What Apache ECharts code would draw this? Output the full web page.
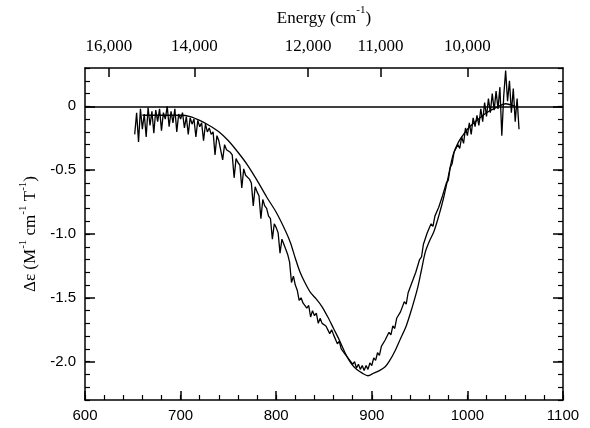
<!DOCTYPE html>
<html><head><meta charset="utf-8">
<script src="https://cdn.jsdelivr.net/npm/echarts@6/dist/echarts.min.js"></script>
<style>html,body{margin:0;padding:0;background:#fff}#c{width:590px;height:428px}</style>
</head><body><div id="c"></div>
<script>
// ---- data ----
const noisyStart = 652;      // nm
const noisyStep = 2;         // nm
const noisyValues = [
 -0.22,-0.05,-0.28,-0.02,-0.18,-0.06,-0.24,-0.01,-0.15,-0.04,
 -0.21,-0.03,-0.12,-0.02,-0.19,-0.05,-0.10,0.00,-0.16,-0.04,
 -0.13,-0.02,-0.20,-0.06,-0.10,-0.05,-0.17,-0.08,-0.22,-0.09,
 -0.14,-0.10,-0.24,-0.11,-0.16,-0.13,-0.27,-0.14,-0.20,-0.17,
 -0.22,-0.20,-0.38,-0.23,-0.27,-0.26,-0.42,-0.30,-0.34,-0.35,
 -0.36,-0.38,-0.56,-0.41,-0.44,-0.46,-0.64,-0.49,-0.54,-0.55,
 -0.57,-0.60,-0.78,-0.63,-0.67,-0.70,-0.88,-0.73,-0.78,-0.80,
 -0.86,-0.88,-1.04,-0.92,-0.95,-0.99,-1.15,-1.04,-1.08,-1.12,
 -1.16,-1.22,-1.38,-1.33,-1.40,-1.44,-1.52,-1.50,-1.54,-1.55,
 -1.58,-1.56,-1.65,-1.60,-1.64,-1.62,-1.70,-1.66,-1.70,-1.69,
 -1.72,-1.72,-1.78,-1.75,-1.79,-1.80,-1.86,-1.84,-1.90,-1.90,
 -1.94,-1.93,-1.98,-1.97,-2.02,-2.00,-2.05,-2.02,-2.06,-2.03,
 -2.07,-2.03,-2.06,-2.01,-2.03,-1.97,-1.99,-1.93,-1.95,-1.88,
 -1.89,-1.83,-1.84,-1.77,-1.79,-1.72,-1.74,-1.66,-1.67,-1.61,
 -1.60,-1.53,-1.55,-1.46,-1.47,-1.38,-1.39,-1.30,-1.30,-1.20,
 -1.18,-1.08,-1.07,-0.99,-1.00,-0.92,-0.94,-0.86,-0.87,-0.79,
 -0.79,-0.70,-0.70,-0.60,-0.58,-0.48,-0.45,-0.36,-0.37,-0.30,
 -0.33,-0.24,-0.29,-0.17,-0.23,-0.13,-0.22,-0.09,-0.16,-0.07,
 -0.15,-0.02,-0.12,0.03,-0.08,0.06,-0.05,0.10,-0.03,0.12,
 -0.02,0.15,-0.23,0.08,0.28,0.04,0.20,-0.05,0.14,-0.12,
 0.06,-0.18
];
const smoothWl = [660,680,700,710,720,730,740,750,760,770,780,790,800,810,815,820,825,830,836,842,848,854,860,866,872,878,884,890,896,902,908,914,918,924,930,936,942,948,952,956,960,965,970,975,980,985,990,995,1000,1010,1020,1030,1040,1050];
const smoothValues = [-0.07,-0.07,-0.07,-0.08,-0.11,-0.15,-0.20,-0.27,-0.36,-0.46,-0.58,-0.71,-0.83,-0.98,-1.07,-1.19,-1.30,-1.38,-1.46,-1.51,-1.57,-1.65,-1.74,-1.83,-1.93,-2.01,-2.06,-2.09,-2.11,-2.09,-2.07,-2.04,-2.00,-1.92,-1.82,-1.72,-1.58,-1.42,-1.28,-1.14,-1.06,-0.98,-0.86,-0.72,-0.55,-0.38,-0.29,-0.23,-0.18,-0.11,-0.05,-0.01,0.02,0.00];
const xTicks = [600,700,800,900,1000,1100];
const xTickLabels = ['600','700','800','900','1000','1100'];
const energyTicks = [16000,14000,12000,11000,10000];          // cm^-1
const energyLabels = ['16,000','14,000','12,000','11,000','10,000'];
const yMajorTicks = [0,-0.5,-1.0,-1.5,-2.0];
const yTickLabels = ['0','-0.5','-1.0','-1.5','-2.0'];

// ---- build ----
const noisyData = noisyValues.map((v,i)=>[noisyStart+i*noisyStep, v]);
const smoothData = smoothWl.map((w,i)=>[w, smoothValues[i]]);
const energyPos = energyTicks.map(e=>1e7/e);
const yMinor = []; for (let k=-23;k<=3;k++) yMinor.push(k/10);
const xMinor = []; for (let w=600; w<=1100; w+=20) xMinor.push(w);
const ySTR = v => { const i = yMajorTicks.findIndex(t=>Math.abs(t-v)<1e-6); return i>=0 ? yTickLabels[i] : ''; };
const xSTR = v => { const i = xTicks.findIndex(t=>Math.abs(t-v)<1e-6); return i>=0 ? xTickLabels[i] : ''; };
const eSTR = v => { let b=0; energyPos.forEach((p,i)=>{ if (Math.abs(p-v)<Math.abs(energyPos[b]-v)) b=i; }); return energyLabels[b]; };

const black = '#000';
const axLine = {show:true, onZero:false, lineStyle:{color:black, width:1.5}};
const noLine = {show:false, onZero:false};
const serif = 'Liberation Serif';
const sans = 'Liberation Sans';
const supRich = {
  n:{fontFamily:serif, fontSize:17, color:black, lineHeight:22, verticalAlign:'bottom'},
  s:{fontFamily:serif, fontSize:11, color:black, lineHeight:12, verticalAlign:'top'}
};
const tick = (vals, len, w) => ({show:true, inside:true, length:len, customValues:vals, lineStyle:{color:black, width:w}});
const xBase = {type:'value', min:600, max:1100, splitLine:{show:false}};
const yBase = {type:'value', min:-2.3, max:0.3, splitLine:{show:false}};

const chart = echarts.init(document.getElementById('c'), null, {renderer:'canvas'});
chart.setOption({
  animation:false,
  backgroundColor:'#fff',
  grid:{left:85, right:27, top:68, bottom:28, containLabel:false},
  xAxis:[
    Object.assign({}, xBase, {position:'bottom', axisLine:axLine,
     axisTick:tick(xTicks, 9, 1.5),
     axisLabel:{show:true, customValues:xTicks, formatter:xSTR, color:black, fontFamily:sans, fontSize:15, margin:8}}),
    Object.assign({}, xBase, {position:'bottom', axisLine:noLine,
     axisTick:tick(xMinor, 5, 1.2), axisLabel:{show:false}}),
    Object.assign({}, xBase, {position:'top', axisLine:axLine,
     axisTick:tick(energyPos, 9, 1.5),
     axisLabel:{show:true, customValues:energyPos, formatter:eSTR, color:black, fontFamily:serif, fontSize:17, margin:13},
     name:'{n|Energy (cm}{s|-1}{n|)}', nameLocation:'middle', nameGap:41,
     nameTextStyle:{rich:supRich}})
  ],
  yAxis:[
    Object.assign({}, yBase, {position:'left', axisLine:axLine,
     axisTick:tick(yMajorTicks, 10, 1.5),
     axisLabel:{show:true, customValues:yMajorTicks, formatter:ySTR, color:black, fontFamily:sans, fontSize:15, margin:9},
     name:'{n|Δε (M}{s|-1}{n| cm}{s|-1}{n| T}{s|-1}{n|)}', nameLocation:'middle', nameGap:44,
     nameTextStyle:{rich:supRich}}),
    Object.assign({}, yBase, {position:'left', axisLine:noLine,
     axisTick:tick(yMinor, 5, 1.2), axisLabel:{show:false}}),
    Object.assign({}, yBase, {position:'right', axisLine:axLine,
     axisTick:tick(yMajorTicks, 10, 1.5), axisLabel:{show:false}}),
    Object.assign({}, yBase, {position:'right', axisLine:noLine,
     axisTick:tick(yMinor, 5, 1.2), axisLabel:{show:false}})
  ],
  series:[
    {type:'line', name:'smooth', data:smoothData, xAxisIndex:0, yAxisIndex:0,
     showSymbol:false, symbol:'none', smooth:0.3,
     lineStyle:{color:black, width:1.3},
     markLine:{silent:true, symbol:['none','none'], label:{show:false},
       lineStyle:{color:black, width:1.6, type:'solid'}, data:[{yAxis:0}]}},
    {type:'line', name:'noisy', data:noisyData, xAxisIndex:0, yAxisIndex:0,
     showSymbol:false, symbol:'none',
     lineStyle:{color:black, width:1.3}}
  ]
});
</script>
</body></html>
